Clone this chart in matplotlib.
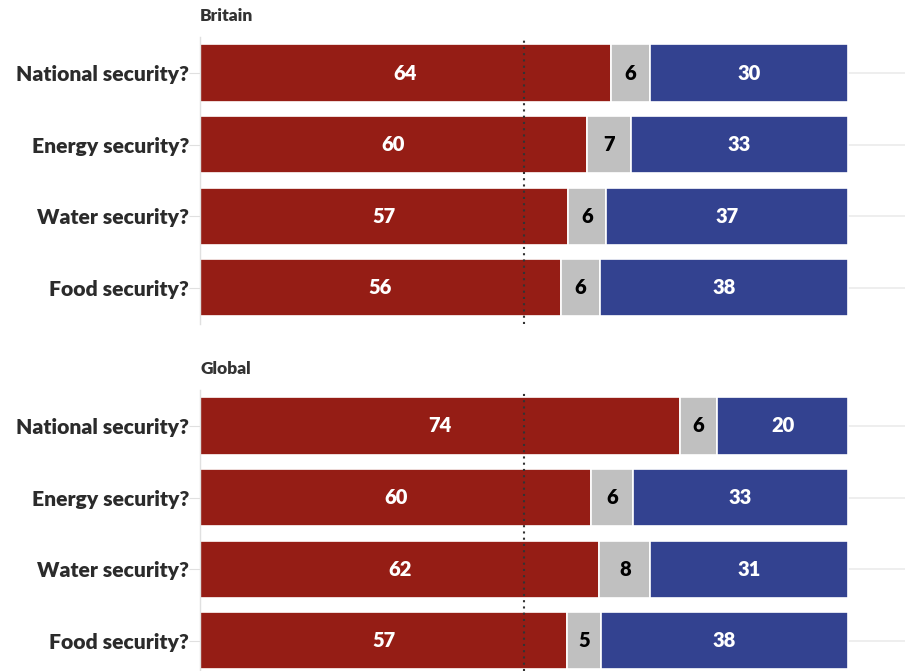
import matplotlib
matplotlib.use("Agg")
import matplotlib.pyplot as plt

categories = ["National security?", "Energy security?", "Water security?", "Food security?"]
panels = ["Britain", "Global"]

# bar lengths (percent)
britain_red = [63.4, 59.7, 56.8, 55.7]
britain_gray = [6.0, 6.8, 5.9, 6.1]
britain_blue = [30.6, 33.5, 37.3, 38.2]
global_red = [74.1, 60.4, 61.6, 56.7]
global_gray = [5.7, 6.4, 7.9, 5.2]
global_blue = [20.2, 33.2, 30.5, 38.1]

# printed labels
britain_red_lbl = [64, 60, 57, 56]
britain_gray_lbl = [6, 7, 6, 6]
britain_blue_lbl = [30, 33, 37, 38]
global_red_lbl = [74, 60, 62, 57]
global_gray_lbl = [6, 6, 8, 5]
global_blue_lbl = [20, 33, 31, 38]

data = {
    "Britain": ((britain_red, britain_gray, britain_blue),
                (britain_red_lbl, britain_gray_lbl, britain_blue_lbl)),
    "Global": ((global_red, global_gray, global_blue),
               (global_red_lbl, global_gray_lbl, global_blue_lbl)),
}

RED = "#951d15"
GRAY = "#c0c0c0"
BLUE = "#334290"
FONT = "Lato"

W, H = 905, 671
fig = plt.figure(figsize=(W / 100, H / 100), dpi=100)

step = 71.6
x0_px, x1_px = 200, 905
xmax = (x1_px - x0_px) / 6.48

layouts = [
    ("Britain", 73, 16),
    ("Global", 426, 369),
]

for name, c0, title_y in layouts:
    top = c0 - step / 2
    bottom = min(c0 + 3 * step + step / 2, H)
    ax = fig.add_axes([x0_px / W, 1 - bottom / H, (x1_px - x0_px) / W, (bottom - top) / H])
    ymax_val = -0.5 + (bottom - top) / step
    ax.set_ylim(ymax_val, -0.5)
    ax.set_xlim(0, xmax)
    (red, gray, blue), (rl, gl, bl) = data[name]
    ys = list(range(len(categories)))
    for y in ys:
        ax.axhline(y, color="#ebebeb", lw=1.2, zorder=0)
    h = 0.8
    left_gray = list(red)
    left_blue = [r + g for r, g in zip(red, gray)]
    ax.barh(ys, red, height=h, color=RED, edgecolor="white", lw=1.2, zorder=2)
    ax.barh(ys, gray, left=left_gray, height=h, color=GRAY, edgecolor="white", lw=1.2, zorder=2)
    ax.barh(ys, blue, left=left_blue, height=h, color=BLUE, edgecolor="white", lw=1.2, zorder=2)
    for i, y in enumerate(ys):
        ax.text(red[i] / 2, y, str(rl[i]), ha="center", va="center", color="white",
                fontsize=14.5, fontweight="heavy", family=FONT, zorder=4)
        ax.text(left_gray[i] + gray[i] / 2, y, str(gl[i]), ha="center", va="center", color="black",
                fontsize=14.5, fontweight="heavy", family=FONT, zorder=4)
        ax.text(left_blue[i] + blue[i] / 2, y, str(bl[i]), ha="center", va="center", color="white",
                fontsize=14.5, fontweight="heavy", family=FONT, zorder=4)
    ax.axvline(50, color="#333333", lw=1.5, ls=(0, (1, 2)), zorder=3)
    for s in ["top", "right", "bottom"]:
        ax.spines[s].set_visible(False)
    ax.spines["left"].set_color("#e0e0e0")
    ax.spines["left"].set_linewidth(1)
    ax.set_xticks([])
    ax.set_yticks(ys)
    ax.set_yticklabels(categories, fontsize=15.2, fontweight="heavy", family=FONT, color="#2b2b2b")
    ax.tick_params(axis="y", length=8, color="#e0e0e0", pad=0)
    fig.text(x0_px / W, 1 - title_y / H, name, ha="left", va="center",
             fontsize=12.5, fontweight="heavy", family=FONT, color="#333333")

fig.savefig("out.png", dpi=100)
